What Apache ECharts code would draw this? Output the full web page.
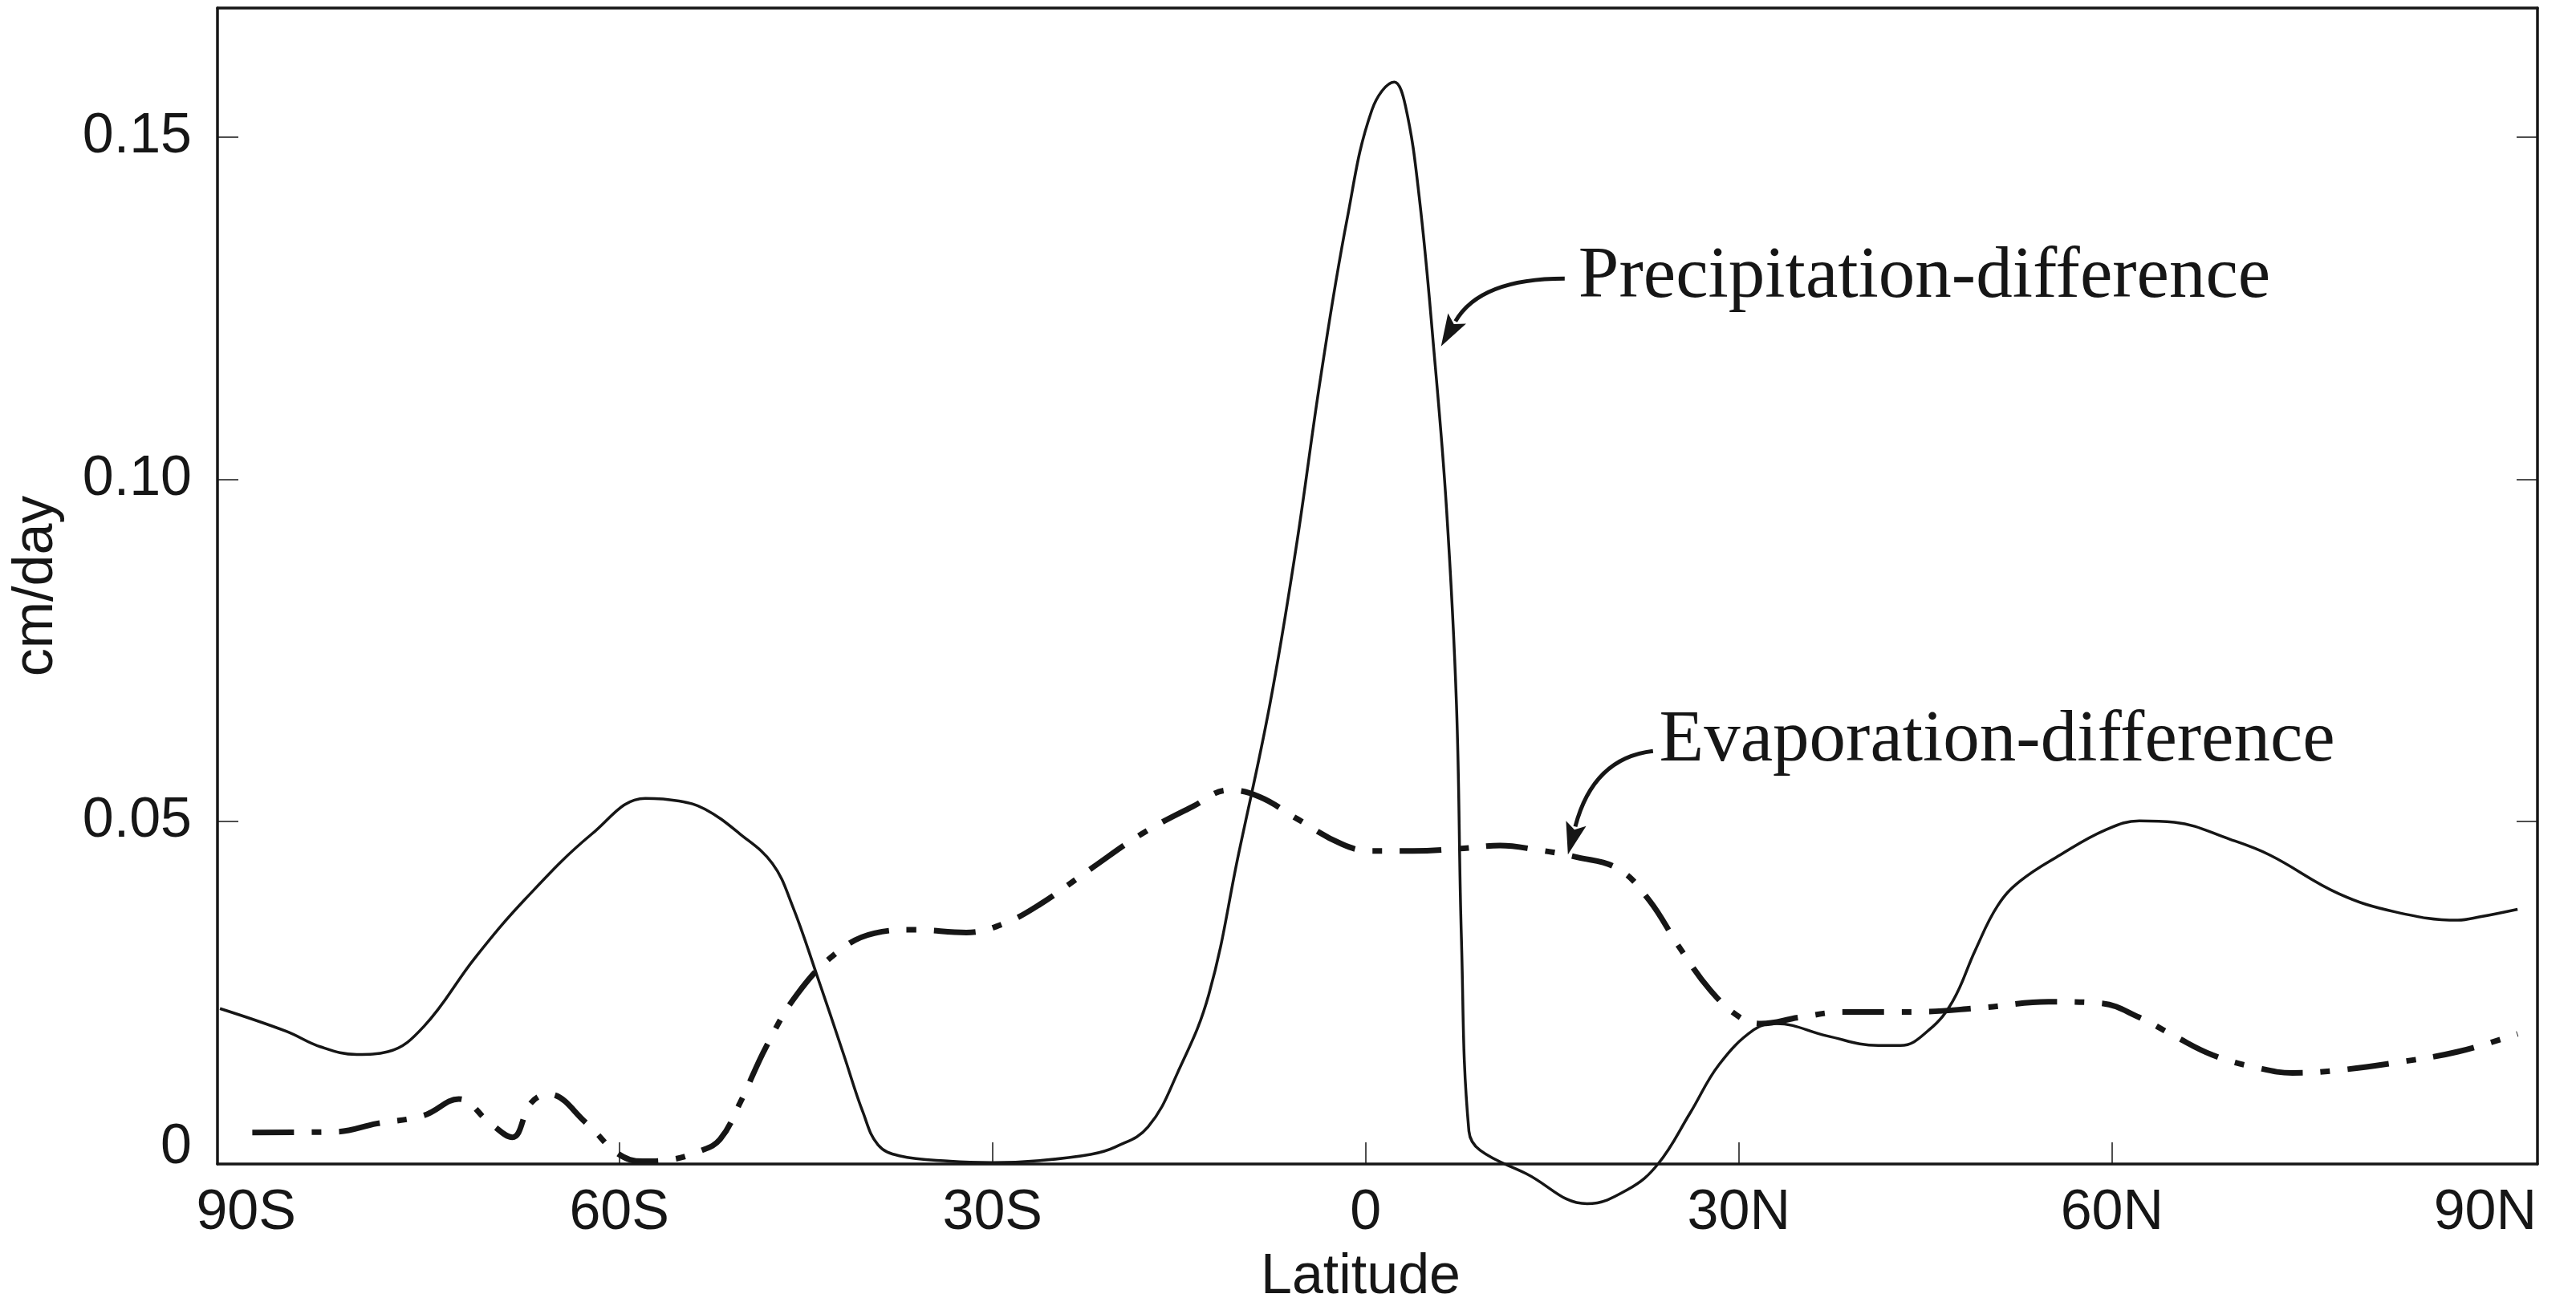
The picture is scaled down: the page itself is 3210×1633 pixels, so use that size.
<!DOCTYPE html>
<html>
<head>
<meta charset="utf-8">
<title>Precipitation and evaporation difference</title>
<script src="https://cdn.jsdelivr.net/npm/echarts@6.0.0/dist/echarts.min.js"></script>
<style>
  html, body { margin: 0; padding: 0; background: #fff; }
  #main { width: 3210px; height: 1633px; }
</style>
</head>
<body>
<div id="main"></div>
<script>
// latitude in degrees (negative = south), values in cm/day
const precipLat = [-92.1, -86.8, -84.0, -81.1, -78.6, -75.7, -71.6, -67.5, -62.2, -57.9, -55.2, -53.1, -50.3, -47.7, -46.1, -44.1, -42.0, -40.4, -39.2, -37.5, -33.4, -30.0, -26.2, -22.1, -20.1, -17.5, -15.1, -12.6, -10.2, -7.7, -5.6, -3.6, -1.5, 0.5, 2.3, 3.2, 4.3, 5.5, 6.5, 7.3, 7.7, 8.3, 9.2, 12.9, 17.8, 21.1, 23.5, 26.1, 28.4, 31.2, 33.0, 37.1, 41.2, 43.0, 45.3, 47.2, 49.0, 50.8, 52.6, 55.8, 59.5, 62.2, 65.0, 69.5, 72.7, 78.2, 82.8, 87.8, 89.6, 92.6];
const precipVal = [0.0227, 0.0194, 0.0171, 0.0160, 0.0164, 0.0201, 0.0301, 0.0388, 0.0482, 0.0534, 0.0530, 0.0518, 0.0482, 0.0439, 0.0378, 0.0275, 0.0162, 0.0075, 0.0028, 0.0012, 0.0004, 0.0002, 0.0005, 0.0014, 0.0025, 0.0054, 0.0134, 0.0248, 0.0454, 0.0671, 0.0899, 0.1151, 0.1379, 0.1539, 0.1580, 0.1545, 0.1413, 0.1185, 0.0957, 0.0671, 0.0328, 0.0048, 0.0020, -0.0014, -0.0058, -0.0037, 0.0000, 0.0075, 0.0145, 0.0196, 0.0205, 0.0187, 0.0173, 0.0173, 0.0196, 0.0238, 0.0312, 0.0377, 0.0413, 0.0451, 0.0488, 0.0501, 0.0499, 0.0474, 0.0451, 0.0395, 0.0368, 0.0356, 0.0361, 0.0372];

const evapLat = [-89.5, -82.8, -79.5, -75.7, -72.9, -70.4, -68.6, -67.1, -65.7, -62.6, -60.1, -58.1, -56.0, -53.5, -51.9, -50.3, -48.2, -45.7, -42.5, -39.5, -36.3, -32.1, -29.1, -26.2, -22.1, -18.0, -13.9, -11.0, -8.5, -5.6, -1.9, 0.5, 3.8, 7.9, 10.8, 13.7, 17.0, 20.3, 22.8, 25.2, 27.7, 30.1, 31.8, 34.8, 38.5, 43.9, 49.4, 54.9, 59.0, 62.2, 65.0, 68.1, 71.8, 74.5, 77.7, 82.8, 87.8, 92.6];
const evapVal = [0.0046, 0.0047, 0.0059, 0.0071, 0.0095, 0.0060, 0.0039, 0.0089, 0.0102, 0.0059, 0.0015, 0.0004, 0.0006, 0.0019, 0.0036, 0.0089, 0.0171, 0.0248, 0.0309, 0.0337, 0.0342, 0.0338, 0.0351, 0.0379, 0.0431, 0.0482, 0.0522, 0.0546, 0.0536, 0.0505, 0.0467, 0.0457, 0.0457, 0.0461, 0.0465, 0.0459, 0.0448, 0.0431, 0.0385, 0.0317, 0.0254, 0.0214, 0.0205, 0.0214, 0.0222, 0.0222, 0.0228, 0.0237, 0.0235, 0.0214, 0.0187, 0.0159, 0.0140, 0.0133, 0.0136, 0.0148, 0.0164, 0.0190];

const xLabelValues = [-90, -60, -30, 0, 30, 60, 90];
const xTickValues = [-60, -30, 0, 30, 60];
const yLabelValues = [0, 0.05, 0.10, 0.15];
const yTickValues = [0.05, 0.10, 0.15];

// annotation anchors, [lat, value]
const precipNote = { text: 'Precipitation-difference', at: [17.1, 0.1294], tail: [16.0, 0.1293], ctrl: [9.2, 0.1293], tip: [6.06, 0.1194] };
const evapNote = { text: 'Evaporation-difference', at: [23.6, 0.0617], tail: [23.1, 0.0603], ctrl: [18.3, 0.0593], tip: [16.26, 0.0452] };

const ink = '#161616';
const sans = '"Liberation Sans", Arial, sans-serif';
const serif = '"Liberation Serif", "Times New Roman", serif';

function latName(v) {
  if (v < 0) return (-v) + 'S';
  if (v > 0) return v + 'N';
  return '0';
}

const chart = echarts.init(document.getElementById('main'), null, { renderer: 'canvas' });

const axisLine = { show: true, onZero: false, lineStyle: { color: ink, width: 3.5 } };
const tickStyle = { color: ink, width: 1.5 };

const option = {
  animation: false,
  backgroundColor: '#fff',
  grid: { left: 271, right: 48, top: 10, bottom: 182, show: false },
  xAxis: [{
    type: 'value',
    position: 'bottom',
    min: -92.3,
    max: 94.2,
    axisLine: axisLine,
    axisTick: { show: true, inside: true, length: 27, customValues: xTickValues, lineStyle: tickStyle },
    axisLabel: {
      customValues: xLabelValues,
      formatter: latName,
      fontSize: 70,
      fontFamily: sans,
      color: ink,
      margin: 27
    },
    splitLine: { show: false },
    name: 'Latitude',
    nameLocation: 'middle',
    nameGap: 107,
    nameTextStyle: { fontSize: 70, fontFamily: sans, color: ink, padding: [0, 42, 0, 0] }
  }, {
    type: 'value',
    position: 'top',
    min: -92.3,
    max: 94.2,
    axisLine: axisLine,
    axisTick: { show: false },
    axisLabel: { show: false },
    splitLine: { show: false }
  }],
  yAxis: [{
    type: 'value',
    position: 'left',
    min: 0,
    max: 0.1688,
    axisLine: axisLine,
    axisTick: { show: true, inside: true, length: 26, customValues: yTickValues, lineStyle: tickStyle },
    axisLabel: {
      customValues: yLabelValues,
      formatter: function (v) { return v === 0 ? '{z|0}' : v.toFixed(2); },
      fontSize: 70,
      fontFamily: sans,
      color: ink,
      margin: 32,
      rich: { z: { fontSize: 70, fontFamily: sans, color: ink, padding: [0, 0, 40, 0] } }
    },
    splitLine: { show: false },
    name: 'cm/day',
    nameLocation: 'middle',
    nameGap: 190,
    nameRotate: 90,
    nameTextStyle: { fontSize: 70, fontFamily: sans, color: ink }
  }, {
    type: 'value',
    position: 'right',
    min: 0,
    max: 0.1688,
    axisLine: axisLine,
    axisTick: { show: true, inside: true, length: 26, customValues: yTickValues, lineStyle: tickStyle },
    axisLabel: { show: false },
    splitLine: { show: false }
  }],
  series: [{
    name: 'Precipitation-difference',
    type: 'line',
    xAxisIndex: 0,
    yAxisIndex: 0,
    data: precipLat.map((x, i) => [x, precipVal[i]]),
    symbol: 'none',
    smooth: 0.4,
    clip: false,
    lineStyle: { color: ink, width: 3.5 },
    z: 3
  }, {
    name: 'Evaporation-difference',
    type: 'line',
    xAxisIndex: 0,
    yAxisIndex: 0,
    data: evapLat.map((x, i) => [x, evapVal[i]]),
    symbol: 'none',
    smooth: 0.4,
    clip: false,
    lineStyle: { color: ink, width: 7, type: [52, 22, 12, 22], cap: 'butt' },
    z: 2
  }]
};

chart.setOption(option);

// curved arrows and labels, placed from data coordinates
function px(p) {
  return chart.convertToPixel({ xAxisIndex: 0, yAxisIndex: 0 }, p);
}

function note(n) {
  const a = px(n.at), t = px(n.tail), c = px(n.ctrl), h = px(n.tip);
  const dx = h[0] - c[0], dy = h[1] - c[1];
  const len = Math.sqrt(dx * dx + dy * dy);
  const ux = dx / len, uy = dy / len;
  const hl = 40, hw = 13;
  const bx = h[0] - ux * hl, by = h[1] - uy * hl;
  return [{
    type: 'bezierCurve',
    shape: { x1: t[0], y1: t[1], cpx1: c[0], cpy1: c[1], x2: bx + ux * 4, y2: by + uy * 4 },
    style: { stroke: ink, lineWidth: 5, fill: null },
    z: 10
  }, {
    type: 'polygon',
    shape: { points: [[h[0], h[1]], [bx - uy * hw, by + ux * hw], [bx + ux * 8, by + uy * 8], [bx + uy * hw, by - ux * hw]] },
    style: { fill: ink },
    z: 10
  }, {
    type: 'text',
    x: a[0],
    y: a[1],
    style: { text: n.text, fontSize: 91, fontFamily: serif, fill: ink, align: 'left', verticalAlign: 'middle' },
    z: 10
  }];
}

chart.setOption({ graphic: note(precipNote).concat(note(evapNote)) });
</script>
</body>
</html>
